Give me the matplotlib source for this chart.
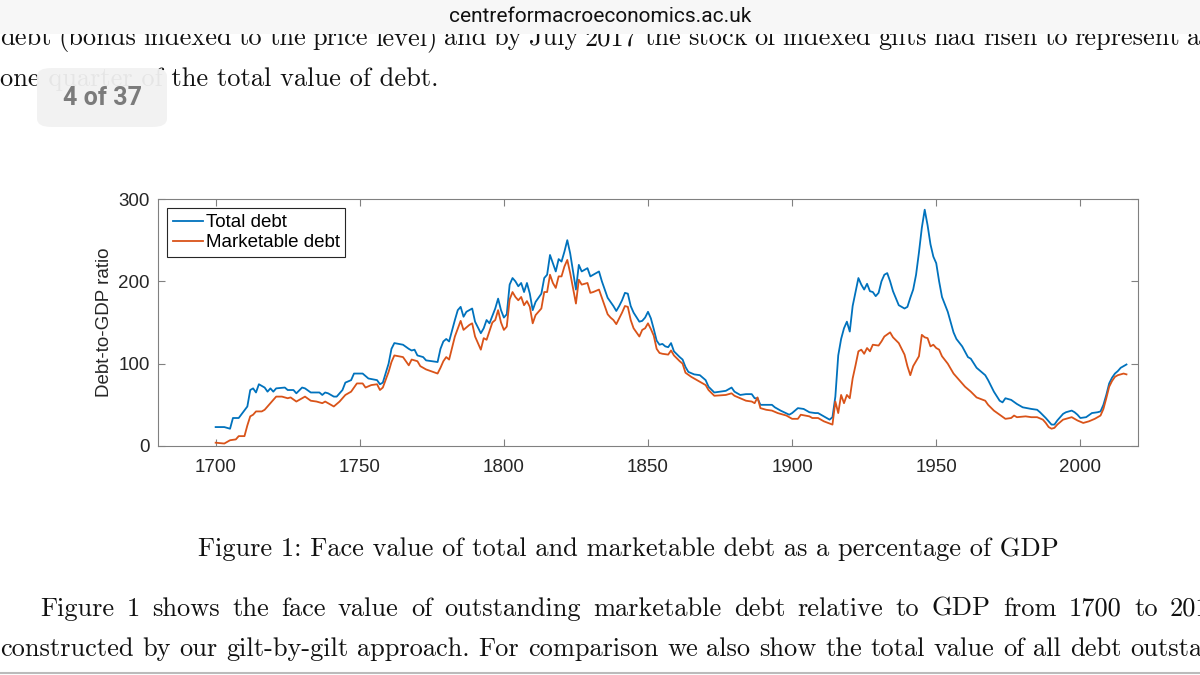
import matplotlib.pyplot as plt
from matplotlib.patches import Rectangle, FancyBboxPatch

# values (debt as % of GDP)
years_total = [1700, 1703, 1705, 1706, 1708, 1711, 1712, 1713, 1714, 1715, 1717, 1718, 1719, 1720,
               1721, 1724, 1725, 1727, 1728, 1730, 1731, 1733, 1736, 1737, 1738, 1739, 1741, 1742,
               1744, 1745, 1747, 1748, 1751, 1753, 1756, 1757, 1758, 1760, 1761, 1762, 1765, 1767,
               1768, 1769, 1770, 1772, 1773, 1775, 1777, 1778, 1779, 1780, 1781, 1783, 1784, 1785,
               1786, 1787, 1789, 1790, 1792, 1793, 1794, 1795, 1797, 1798, 1799, 1800, 1801, 1802,
               1803, 1804, 1805, 1806, 1807, 1808, 1809, 1810, 1811, 1813, 1814, 1815, 1816, 1817,
               1818, 1819, 1820, 1821, 1822, 1823, 1825, 1826, 1827, 1829, 1830, 1831, 1833, 1834,
               1835, 1836, 1837, 1838, 1839, 1840, 1841, 1842, 1843, 1844, 1845, 1847, 1848, 1849,
               1850, 1851, 1852, 1853, 1854, 1855, 1856, 1857, 1858, 1859, 1861, 1862, 1863, 1864,
               1866, 1868, 1870, 1871, 1873, 1875, 1877, 1878, 1879, 1880, 1882, 1884, 1886, 1887,
               1888, 1889, 1891, 1893, 1894, 1896, 1899, 1900, 1902, 1904, 1906, 1908, 1909, 1911,
               1913, 1914, 1915, 1916, 1917, 1918, 1919, 1920, 1921, 1922, 1923, 1924, 1925, 1926,
               1927, 1928, 1929, 1930, 1931, 1932, 1933, 1934, 1935, 1937, 1939, 1940, 1941, 1942,
               1943, 1944, 1945, 1946, 1947, 1948, 1949, 1950, 1951, 1952, 1954, 1956, 1957, 1959,
               1961, 1962, 1964, 1966, 1967, 1968, 1970, 1972, 1973, 1974, 1976, 1978, 1980, 1983,
               1985, 1986, 1988, 1989, 1990, 1991, 1992, 1994, 1995, 1997, 1998, 1999, 2000, 2002,
               2004, 2006, 2007, 2008, 2009, 2010, 2011, 2012, 2013, 2014, 2015, 2016]
total_debt = [23, 23, 21, 34, 34, 48, 68, 70, 65, 75, 71, 66, 70, 66,
              70, 71, 68, 68, 64, 71, 70, 65, 65, 62, 65, 64, 60, 60,
              68, 77, 80, 88, 88, 82, 80, 75, 77, 100, 118, 125, 123, 118,
              116, 117, 110, 108, 104, 103, 102, 118, 127, 130, 127, 153, 165, 169,
              157, 163, 167, 151, 137, 143, 153, 149, 167, 179, 165, 156, 160, 196,
              204, 200, 194, 198, 187, 198, 185, 165, 175, 185, 204, 208, 232, 222,
              212, 227, 224, 236, 250, 234, 190, 220, 212, 216, 206, 208, 212, 200,
              190, 180, 175, 170, 164, 170, 177, 186, 185, 170, 162, 151, 152, 156,
              163, 155, 142, 128, 123, 124, 121, 120, 125, 115, 108, 105, 96, 90,
              87, 86, 80, 72, 65, 66, 67, 69, 71, 66, 62, 63, 63, 58,
              58, 50, 50, 50, 47, 43, 38, 40, 46, 45, 41, 40, 40, 36,
              32, 35, 60, 110, 130, 143, 151, 139, 170, 187, 204, 196, 190, 197,
              188, 187, 182, 186, 200, 208, 210, 200, 188, 171, 167, 169, 180, 190,
              208, 235, 265, 287, 268, 245, 230, 222, 200, 181, 163, 138, 130, 121,
              108, 106, 95, 89, 86, 80, 66, 55, 53, 58, 56, 51, 47, 45,
              44, 41, 34, 30, 26, 26, 31, 39, 41, 43, 41, 38, 34, 35,
              40, 41, 42, 50, 62, 76, 83, 88, 91, 95, 97, 99]

years_mkt = [1700, 1703, 1705, 1707, 1708, 1710, 1711, 1712, 1713, 1714, 1716, 1717, 1719, 1721,
             1723, 1725, 1726, 1728, 1731, 1733, 1735, 1737, 1738, 1739, 1741, 1743, 1745, 1747,
             1749, 1751, 1752, 1754, 1756, 1757, 1758, 1760, 1761, 1762, 1765, 1767, 1768, 1770,
             1771, 1773, 1777, 1778, 1779, 1780, 1781, 1783, 1785, 1786, 1788, 1789, 1790, 1792,
             1793, 1794, 1796, 1797, 1798, 1799, 1800, 1801, 1802, 1803, 1804, 1805, 1806, 1807,
             1808, 1809, 1810, 1811, 1813, 1814, 1815, 1816, 1817, 1818, 1819, 1820, 1821, 1822,
             1823, 1825, 1826, 1827, 1829, 1830, 1831, 1833, 1834, 1835, 1836, 1837, 1838, 1839,
             1840, 1841, 1842, 1843, 1844, 1845, 1847, 1848, 1849, 1850, 1851, 1852, 1853, 1854,
             1855, 1857, 1858, 1859, 1861, 1862, 1863, 1865, 1867, 1870, 1871, 1873, 1877, 1879,
             1880, 1882, 1884, 1886, 1887, 1888, 1889, 1891, 1893, 1895, 1898, 1900, 1902, 1903,
             1906, 1907, 1909, 1911, 1914, 1915, 1916, 1917, 1918, 1919, 1920, 1921, 1922, 1923,
             1924, 1925, 1926, 1927, 1928, 1930, 1931, 1932, 1934, 1935, 1937, 1939, 1940, 1941,
             1942, 1944, 1945, 1946, 1947, 1948, 1949, 1950, 1951, 1952, 1954, 1956, 1958, 1960,
             1962, 1964, 1967, 1968, 1970, 1972, 1974, 1976, 1977, 1978, 1981, 1983, 1985, 1987,
             1988, 1989, 1990, 1991, 1992, 1994, 1997, 1999, 2001, 2003, 2005, 2007, 2008, 2009,
             2010, 2011, 2012, 2013, 2015, 2016]
marketable_debt = [4, 3, 7, 8, 12, 12, 25, 36, 38, 42, 42, 44, 52, 60,
                   60, 58, 59, 54, 60, 55, 54, 52, 54, 52, 48, 54, 62, 66,
                   76, 76, 71, 74, 75, 68, 71, 90, 102, 110, 108, 98, 105, 103,
                   97, 93, 88, 95, 103, 108, 105, 133, 152, 141, 147, 149, 133, 117,
                   131, 129, 150, 153, 165, 150, 141, 145, 178, 187, 181, 177, 181, 171,
                   176, 169, 149, 159, 167, 187, 187, 208, 198, 192, 206, 206, 218, 226,
                   210, 173, 202, 196, 198, 186, 187, 190, 180, 170, 160, 156, 153, 148,
                   155, 162, 170, 169, 153, 143, 133, 141, 143, 149, 142, 134, 118, 113,
                   112, 111, 116, 110, 103, 100, 89, 84, 80, 74, 68, 61, 62, 64,
                   61, 58, 55, 54, 52, 59, 46, 44, 43, 40, 37, 33, 33, 38,
                   36, 34, 34, 30, 26, 54, 40, 62, 52, 62, 58, 82, 98, 115,
                   117, 112, 119, 115, 123, 122, 127, 133, 138, 132, 125, 111, 97, 86,
                   97, 109, 135, 132, 131, 121, 123, 119, 117, 109, 100, 88, 80, 72,
                   66, 59, 55, 50, 43, 38, 33, 34, 37, 35, 36, 35, 35, 32,
                   28, 23, 21, 22, 26, 32, 35, 31, 28, 30, 33, 37, 45, 58,
                   72, 79, 84, 86, 88, 87]

x_ticks = [1700, 1750, 1800, 1850, 1900, 1950, 2000]
y_ticks = [0, 100, 200, 300]

W, H = 1200, 675
fig = plt.figure(figsize=(12, 6.75), dpi=100)


def fx(px):
    return px / W


def fy(py):
    return 1 - py / H


serif = 'cmr10'
body = 19
ink = '#111111'
renderer = fig.canvas.get_renderer()


def justify(line, x0, y, x_last):
    # spread words so that the last one starts at x_last (pixels)
    words = line.split()
    widths = []
    for w in words:
        t = fig.text(0, 0, w, family=serif, fontsize=body)
        widths.append(t.get_window_extent(renderer=renderer).width)
        t.remove()
    gap = (x_last - x0 - sum(widths[:-1])) / (len(words) - 1)
    x = x0
    for w, wd in zip(words, widths):
        fig.text(fx(x), fy(y), w, family=serif, fontsize=body, ha='left',
                 va='baseline', color=ink)
        x += wd + gap


# page text
justify("debt (bonds indexed to the price level) and by July 2017 the stock of indexed gilts had risen to represent a",
        0, 45, 1187)
fig.text(fx(0), fy(86), "one quarter of the total value of debt.",
         family=serif, fontsize=body, ha='left', va='baseline', color=ink)
fig.text(fx(628), fy(556), "Figure 1: Face value of total and marketable debt as a percentage of GDP",
         family=serif, fontsize=body, ha='center', va='baseline', color=ink)
justify("Figure 1 shows the face value of outstanding marketable debt relative to GDP from 1700 to 2017",
        40, 616, 1170)
justify("constructed by our gilt-by-gilt approach. For comparison we also show the total value of all debt outstanding",
        0, 656, 1130)

# browser bar on top
fig.patches.append(Rectangle((0, fy(34)), 1, 1 - fy(34), transform=fig.transFigure,
                             facecolor='#f7f7f7', edgecolor='none', zorder=5))
fig.text(0.5, fy(17), "centreformacroeconomics.ac.uk", family='Roboto', fontsize=15,
         ha='center', va='center', color=ink, zorder=6)
fig.add_artist(plt.Line2D([0, 1], [fy(673), fy(673)], transform=fig.transFigure,
                          color='#bbbbbb', lw=1.5, zorder=6))

# page badge
fig.patches.append(FancyBboxPatch((fx(37), fy(127)), fx(167) - fx(37), fy(68) - fy(127),
                                  boxstyle='round,pad=0,rounding_size=0.012',
                                  transform=fig.transFigure, facecolor='#f2f2f2',
                                  edgecolor='none', alpha=0.95, zorder=5))
fig.text(fx(102), fy(98), "4 of 37", family='Roboto', fontsize=18, fontweight='bold',
         ha='center', va='center', color='#7b7b7b', zorder=6)

# chart
sans = 'Liberation Sans'
ax = fig.add_axes([fx(158), fy(446), fx(1138) - fx(158), fy(199) - fy(446)])
ax.plot(years_total, total_debt, color='#0072BD', lw=1.3, label='Total debt')
ax.plot(years_mkt, marketable_debt, color='#D95319', lw=1.3, label='Marketable debt')

ax.set_xlim(1680, 2020)
ax.set_ylim(0, 300)
ax.set_xticks(x_ticks)
ax.set_yticks(y_ticks)
ax.tick_params(direction='in', length=5, width=0.8, color='#808080', labelsize=13.5,
               labelcolor='#262626', top=True, right=True, pad=6)
ax.tick_params(axis='x', pad=9)
for lbl in ax.get_xticklabels() + ax.get_yticklabels():
    lbl.set_family(sans)
for s in ax.spines.values():
    s.set_color('#808080')
    s.set_linewidth(0.8)
ax.set_ylabel("Debt-to-GDP ratio", fontsize=13.5, family=sans, color='#262626', labelpad=4)

leg = ax.legend(loc='upper left', prop={'family': sans, 'size': 13.5}, handlelength=1.6,
                handletextpad=0.15, borderpad=0.3, labelspacing=0.15, borderaxespad=0.5,
                fancybox=False, framealpha=1)
leg.get_frame().set_edgecolor('#262626')
leg.get_frame().set_linewidth(0.8)

fig.savefig('out.png', dpi=100)
